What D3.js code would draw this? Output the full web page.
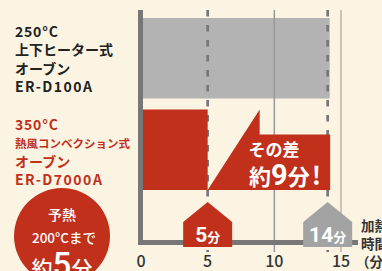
<!DOCTYPE html>
<html>
<head>
<meta charset="utf-8">
<script src="https://cdn.jsdelivr.net/npm/d3@7"></script>
<style>
  html, body { margin: 0; padding: 0; background: #fbf4e2; }
  svg { display: block; font-family: "Noto Sans CJK JP", "Noto Sans", sans-serif; }
</style>
</head>
<body>
<div id="chart"></div>
<script>
// data
const models = ["ER-D100A", "ER-D7000A"];
const minutes = [14, 5];
const xTicks = [0, 5, 10, 15];
const dashedTicks = [5, 14];
const solidTicks = [10, 15];
const labelLines = [
    ["250°C", "上下ヒーター式", "オーブン", "ER-D100A"],
    ["350°C", "熱風コンベクション式", "オーブン", "ER-D7000A"]
];
const diffMinutes = minutes[0] - minutes[1];

const width = 382, height = 271;
const red = "#c0301b", gray = "#b3b3b3", axisColor = "#777";

const svg = d3.select("#chart").append("svg")
    .attr("width", width)
    .attr("height", height);

svg.append("rect").attr("width", width).attr("height", height).attr("fill", "#fbf4e2");

const x = d3.scaleLinear().domain([0, 15]).range([141, 341]);
const y = d3.scaleBand().domain(models).range([18, 190]).paddingInner(0.12);

// gray bar (behind grid)
svg.append("rect")
    .attr("x", x(0))
    .attr("y", y(models[0]))
    .attr("width", x(minutes[0]) - x(0) + 2)
    .attr("height", y.bandwidth())
    .attr("fill", gray);

// grid lines
svg.selectAll("line.solid")
    .data(solidTicks)
    .enter().append("line")
    .attr("class", "solid")
    .attr("x1", d => x(d)).attr("x2", d => x(d))
    .attr("y1", 10).attr("y2", 252)
    .attr("stroke", d => d === 15 ? "#b9b6ad" : "#9a9a9a")
    .attr("stroke-width", 1.5);

svg.selectAll("line.dashed")
    .data(dashedTicks)
    .enter().append("line")
    .attr("class", "dashed")
    .attr("x1", d => x(d)).attr("x2", d => x(d))
    .attr("y1", 10).attr("y2", 252)
    .attr("stroke", axisColor)
    .attr("stroke-width", 2.7)
    .attr("stroke-dasharray", "6.5,8.5");

// red bar
const ry = y(models[1]);
const rb = ry + y.bandwidth();
svg.append("rect")
    .attr("x", x(0))
    .attr("y", ry)
    .attr("width", x(minutes[1]) - x(0))
    .attr("height", y.bandwidth())
    .attr("fill", red);

// difference callout
const px = x(8.9);
const notchY = ry + 25;
const rx = x(minutes[0]) + 2.5;
svg.append("path")
    .attr("d", `M${x(minutes[1])},${rb} L${px},${ry} L${px},${notchY} L${rx},${notchY} L${rx},${rb} Z`)
    .attr("fill", red);

svg.append("text")
    .attr("x", 274).attr("y", 156)
    .attr("text-anchor", "middle")
    .attr("fill", "#fff").attr("font-weight", 700).attr("font-size", 17)
    .text("その差");

const diffText = svg.append("text")
    .attr("x", 285).attr("y", 185)
    .attr("text-anchor", "middle")
    .attr("fill", "#fff").attr("font-weight", 700);
diffText.append("tspan").attr("font-size", 22).text("約");
diffText.append("tspan").attr("font-size", 29).attr("font-family", "Roboto, sans-serif").text(diffMinutes);
diffText.append("tspan").attr("font-size", 22).text("分");
diffText.append("tspan").attr("font-size", 25).attr("dx", 2).text("!");

// axes
svg.append("rect").attr("x", 138).attr("y", 10).attr("width", 5).attr("height", 235).attr("fill", axisColor);
svg.append("rect").attr("x", 138).attr("y", 240).attr("width", 220).attr("height", 5).attr("fill", axisColor);

// tick labels
svg.selectAll("text.tick")
    .data(xTicks)
    .enter().append("text")
    .attr("class", "tick")
    .attr("x", d => x(d))
    .attr("y", 267)
    .attr("text-anchor", "middle")
    .attr("font-size", 16)
    .attr("font-weight", 500)
    .attr("fill", "#333")
    .text(d => d);

svg.selectAll("text.xlab")
    .data(["加熱", "時間", "（分）"])
    .enter().append("text")
    .attr("class", "xlab")
    .attr("x", (d, i) => i === 2 ? 356 : 361)
    .attr("y", (d, i) => 231 + i * 18)
    .attr("font-size", 13.5)
    .attr("font-weight", 700)
    .attr("fill", "#333")
    .text(d => d);

// time markers (house shapes)
const houses = [
    { v: minutes[1], color: red },
    { v: minutes[0], color: "#a3a3a3" }
];
const hg = svg.selectAll("g.house")
    .data(houses)
    .enter().append("g")
    .attr("class", "house")
    .attr("transform", d => `translate(${x(d.v)},0)`);
hg.append("path")
    .attr("d", "M-24.5,247 L-24.5,222 L0,202 L24.5,222 L24.5,247 Z")
    .attr("fill", d => d.color);
const ht = hg.append("text")
    .attr("x", 0).attr("y", 242)
    .attr("text-anchor", "middle")
    .attr("fill", "#fff").attr("font-weight", 700);
ht.append("tspan").attr("font-size", 21).attr("font-family", "Roboto, sans-serif").text(d => d.v);
ht.append("tspan").attr("font-size", 13).text("分");

// model labels
labelLines.forEach((lines, k) => {
    svg.selectAll(null)
        .data(lines)
        .enter().append("text")
        .attr("x", 15)
        .attr("y", (d, i) => (k === 0 ? 37 : 130) + i * 18.3)
        .attr("font-size", (d, i) => i === 1 && k === 1 ? 11.5 : 14)
        .attr("font-weight", 700)
        .attr("letter-spacing", (d, i) => i === 3 ? 1.5 : i === 0 ? 0.8 : 0)
        .attr("fill", k === 0 ? "#222" : red)
        .text(d => d);
});

// preheat badge
svg.append("circle").attr("cx", 62).attr("cy", 236).attr("r", 48).attr("fill", red);
svg.append("text")
    .attr("x", 62).attr("y", 220)
    .attr("text-anchor", "middle")
    .attr("fill", "#fff").attr("font-weight", 500).attr("font-size", 14)
    .text("予熱");
svg.append("text")
    .attr("x", 64).attr("y", 243)
    .attr("text-anchor", "middle")
    .attr("fill", "#fff").attr("font-weight", 500).attr("font-size", 13.5)
    .text("200°Cまで");
const badge = svg.append("text")
    .attr("x", 62).attr("y", 276)
    .attr("text-anchor", "middle")
    .attr("fill", "#fff").attr("font-weight", 500);
badge.append("tspan").attr("font-size", 21).text("約");
badge.append("tspan").attr("font-size", 33).attr("font-family", "Roboto, sans-serif").text(minutes[1]);
badge.append("tspan").attr("font-size", 21).text("分");
</script>
</body>
</html>
